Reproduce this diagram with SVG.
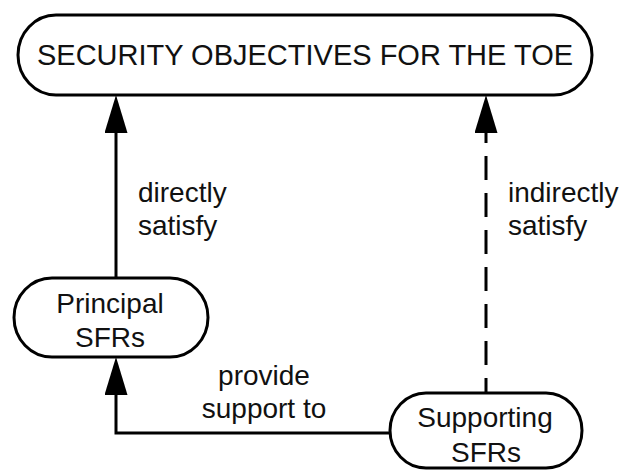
<svg xmlns="http://www.w3.org/2000/svg" width="621" height="470" viewBox="0 0 621 470">
<defs>
<style>
.box{fill:#fff;stroke:#000;stroke-width:3}
.t{font-family:"Liberation Sans",Arial,sans-serif;font-size:28px;fill:#111}
.c{fill:none;stroke:#000;stroke-width:3}
</style>
<marker id="ah" viewBox="0 0 38 23" refX="3" refY="11.5" markerWidth="38" markerHeight="23" markerUnits="userSpaceOnUse" orient="auto-start-reverse">
<path d="M0,0 L38,11.5 L0,23 z" fill="#000"/>
</marker>
</defs>
<rect width="621" height="470" fill="#fff"/>
<g id="connectors">
<path class="c" d="M116,278 L116,130" marker-end="url(#ah)"/>
<path class="c" d="M486,130 L486,393" stroke-dasharray="24 13" stroke-dashoffset="11" marker-start="url(#ah)"/>
<path class="c" d="M390,433 L116,433 L116,392" marker-end="url(#ah)"/>
<text class="t" x="138" y="202">directly</text>
<text class="t" x="138" y="235">satisfy</text>
<text class="t" x="508" y="202">indirectly</text>
<text class="t" x="508" y="235">satisfy</text>
<text class="t" x="264" y="385" text-anchor="middle">provide</text>
<text class="t" x="264" y="418" text-anchor="middle">support to</text>
</g>
<g id="objectives">
<rect class="box" x="18" y="15" width="574" height="80" rx="38" ry="40"/>
<text class="t" x="305" y="65" text-anchor="middle" style="font-size:29px">SECURITY OBJECTIVES FOR THE TOE</text>
</g>
<g id="principal">
<rect class="box" x="14" y="278" width="194" height="79" rx="38" ry="39.5"/>
<text class="t" x="110" y="313" text-anchor="middle">Principal</text>
<text class="t" x="110" y="347" text-anchor="middle">SFRs</text>
</g>
<g id="supporting">
<rect class="box" x="390" y="393" width="192" height="75" rx="36" ry="37.5"/>
<text class="t" x="485" y="427" text-anchor="middle">Supporting</text>
<text class="t" x="486" y="462" text-anchor="middle">SFRs</text>
</g>
</svg>
